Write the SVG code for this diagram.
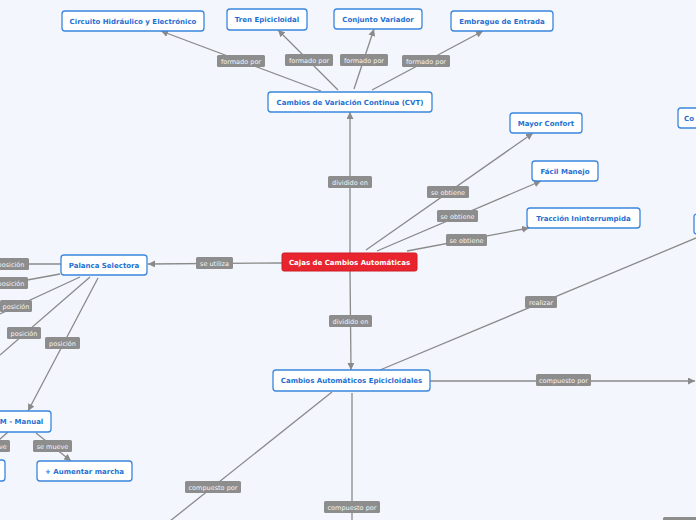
<svg xmlns="http://www.w3.org/2000/svg" width="696" height="520" viewBox="0 0 696 520">
<style>
.n rect{fill:#ffffff;stroke:#3a86dc;stroke-width:1.3}
.n text{font-family:"DejaVu Sans",Verdana,sans-serif;font-size:7px;font-weight:bold;fill:#1f6fd2;text-anchor:middle}
.r rect{fill:#e8252f;stroke:#d01c25;stroke-width:1}
.r text{font-family:"DejaVu Sans",Verdana,sans-serif;font-size:7px;font-weight:bold;fill:#ffffff;text-anchor:middle}
.c line{stroke:#8a8a8a;stroke-width:1.3;fill:none}
.c line.a{marker-end:url(#ah)}
.l rect{fill:#8d8d8d}
.l text{font-family:"DejaVu Sans",Verdana,sans-serif;font-size:6.5px;fill:#f4f4f4;text-anchor:middle}
</style>
<defs>
<marker id="ah" viewBox="0 0 10 10" refX="10" refY="5" markerWidth="7" markerHeight="7" markerUnits="userSpaceOnUse" orient="auto">
<path d="M0,0 L10,5 L0,10 z" fill="#8a8a8a"/>
</marker>
</defs>
<rect width="696" height="520" fill="#f3f6fd"/>
<g id="connectors" class="c">
<line class="a" x1="321" y1="91" x2="161" y2="31"/>
<line class="a" x1="338" y1="90" x2="278" y2="30"/>
<line class="a" x1="354" y1="89" x2="374" y2="29"/>
<line class="a" x1="372" y1="90" x2="483" y2="31"/>
<line class="a" x1="350" y1="253" x2="350" y2="112"/>
<line class="a" x1="366" y1="250" x2="533" y2="133"/>
<line class="a" x1="377" y1="251" x2="541" y2="181"/>
<line class="a" x1="407" y1="251" x2="529" y2="228"/>
<line class="a" x1="282" y1="263" x2="148" y2="264"/>
<line class="a" x1="350" y1="271" x2="351" y2="370"/>
<line x1="380" y1="370" x2="720" y2="228"/>
<line class="a" x1="430" y1="381" x2="695" y2="381"/>
<line x1="332" y1="392" x2="160" y2="529"/>
<line x1="352" y1="393" x2="352" y2="520"/>
<line x1="61" y1="264" x2="0" y2="264"/>
<line x1="60" y1="274" x2="0" y2="285"/>
<line x1="80" y1="277" x2="0" y2="314"/>
<line x1="90" y1="277" x2="0" y2="355"/>
<line class="a" x1="98" y1="278" x2="28" y2="411"/>
<line class="a" x1="36" y1="433" x2="71" y2="461"/>
<line x1="8" y1="432" x2="-10" y2="448"/>
</g>
<g id="labels" class="l">
<rect x="217" y="55" width="48" height="12" rx="1.5"/><text x="241" y="63.5">formado por</text>
<rect x="285" y="54" width="48" height="12" rx="1.5"/><text x="309" y="62.5">formado por</text>
<rect x="340" y="54" width="48" height="12" rx="1.5"/><text x="364" y="62.5">formado por</text>
<rect x="402" y="55" width="48" height="12" rx="1.5"/><text x="426" y="63.5">formado por</text>
<rect x="328" y="176" width="44" height="12" rx="1.5"/><text x="350" y="184.5">dividido en</text>
<rect x="427" y="186" width="42" height="12" rx="1.5"/><text x="448" y="194.5">se obtiene</text>
<rect x="437" y="210" width="41" height="12" rx="1.5"/><text x="457.5" y="218.5">se obtiene</text>
<rect x="446" y="234" width="41" height="12" rx="1.5"/><text x="466.5" y="242.5">se obtiene</text>
<rect x="196" y="257" width="37" height="12" rx="1.5"/><text x="214.5" y="265.5">se utiliza</text>
<rect x="329" y="315" width="43" height="12" rx="1.5"/><text x="350.5" y="323.5">dividido en</text>
<rect x="525" y="296" width="32" height="12" rx="1.5"/><text x="541" y="304.5">realizar</text>
<rect x="536" y="374" width="55" height="12" rx="1.5"/><text x="563.5" y="382.5">compuesto por</text>
<rect x="185" y="481" width="56" height="12" rx="1.5"/><text x="213" y="489.5">compuesto por</text>
<rect x="324" y="501" width="56" height="12" rx="1.5"/><text x="352" y="509.5">compuesto por</text>
<rect x="-12" y="258" width="41" height="12" rx="1.5"/><text x="11" y="266.5">posición</text>
<rect x="-12" y="277" width="40" height="12" rx="1.5"/><text x="11" y="285.5">posición</text>
<rect x="0" y="300" width="32" height="12" rx="1.5"/><text x="16" y="308.5">posición</text>
<rect x="7" y="327" width="34" height="12" rx="1.5"/><text x="24" y="335.5">posición</text>
<rect x="45" y="337" width="35" height="12" rx="1.5"/><text x="62.5" y="345.5">posición</text>
<rect x="33" y="440" width="39" height="12" rx="1.5"/><text x="52.5" y="448.5">se mueve</text>
<rect x="-30" y="440" width="40" height="12" rx="1.5"/><text x="-9" y="448.5">se mueve</text>
<rect x="663" y="517" width="40" height="12" rx="1.5"/>
</g>
<g id="n-circuito" class="n"><rect x="62" y="11" width="142" height="20" rx="3"/><text x="133" y="23.5">Circuito Hidráulico y Electrónico</text></g>
<g id="n-tren" class="n"><rect x="227" y="9" width="80" height="21" rx="3"/><text x="267" y="22">Tren Epicicloidal</text></g>
<g id="n-conjunto" class="n"><rect x="334" y="9" width="88" height="20" rx="3"/><text x="378" y="21.5">Conjunto Variador</text></g>
<g id="n-embrague" class="n"><rect x="451" y="11" width="102" height="20" rx="3"/><text x="502" y="23.5">Embrague de Entrada</text></g>
<g id="n-cvt" class="n"><rect x="268" y="92" width="164" height="20" rx="3"/><text x="350" y="104.5">Cambios de Variación Continua (CVT)</text></g>
<g id="n-confort" class="n"><rect x="510" y="113" width="72" height="20" rx="3"/><text x="546" y="125.5">Mayor Confort</text></g>
<g id="n-manejo" class="n"><rect x="532" y="161" width="66" height="20" rx="3"/><text x="565" y="173.5">Fácil Manejo</text></g>
<g id="n-traccion" class="n"><rect x="527" y="208" width="113" height="20" rx="3"/><text x="583.5" y="220.5">Tracción Ininterrumpida</text></g>
<g id="n-co" class="n"><rect x="678" y="108" width="40" height="20" rx="3"/><text x="684" y="120.5" style="text-anchor:start">Co</text></g>
<g id="n-right2" class="n"><rect x="694" y="214" width="30" height="20" rx="3"/></g>
<g id="n-cajas" class="r"><rect x="282" y="253" width="135" height="18" rx="2"/><text x="349.5" y="264.5">Cajas de Cambios Automáticas</text></g>
<g id="n-palanca" class="n"><rect x="61" y="255" width="86" height="20" rx="3"/><text x="104" y="267.5">Palanca Selectora</text></g>
<g id="n-epic" class="n"><rect x="273" y="370" width="157" height="21" rx="3"/><text x="351.5" y="383">Cambios Automáticos Epicicloidales</text></g>
<g id="n-manual" class="n"><rect x="-12" y="411" width="63" height="21" rx="3"/><text x="21.5" y="424">M - Manual</text></g>
<g id="n-left2" class="n"><rect x="-20" y="460" width="25" height="21" rx="3"/></g>
<g id="n-aumentar" class="n"><rect x="37" y="461" width="95" height="20" rx="3"/><text x="84.5" y="473.5">+ Aumentar marcha</text></g>
</svg>
